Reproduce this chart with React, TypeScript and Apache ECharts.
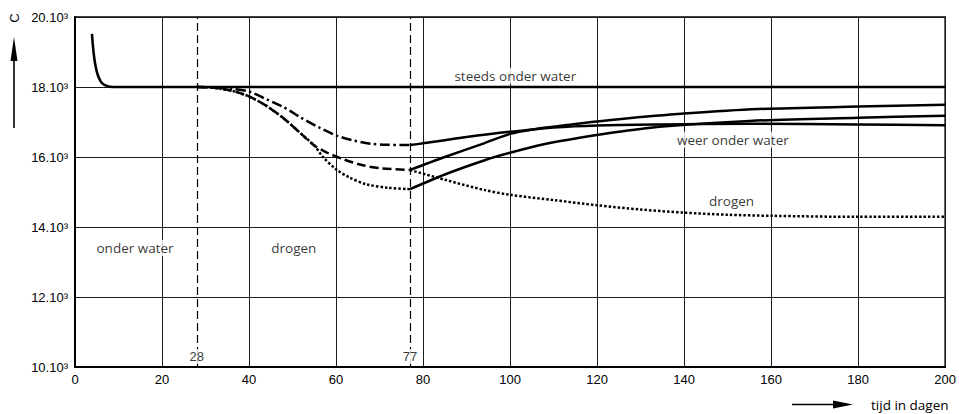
import React, { useEffect, useRef } from "react";
import * as echarts from "echarts";

// Axis ticks
const xTicks = [0, 20, 40, 60, 80, 100, 120, 140, 160, 180, 200];
const yTicks = [10, 12, 14, 16, 18, 20];

// Sample kept under water the whole time (C against days)
const steedsOnderWater: number[][] = [
  [3.9, 19.52], [4.1, 19.2], [4.4, 18.85], [4.8, 18.55], [5.3, 18.32],
  [5.9, 18.16], [6.6, 18.07], [7.5, 18.02], [8.6, 18.0], [200, 18.0],
];

// Drying period, day 28 to day 77 (three specimens)
const dryDashDot: number[][] = [
  [28, 18.0], [32, 17.99], [36, 17.95], [40, 17.87], [44, 17.65], [48, 17.42],
  [52, 17.12], [56, 16.85], [60, 16.62], [64, 16.47], [68, 16.38], [72, 16.35], [77, 16.34],
];
const dryDashed: number[][] = [
  [28, 18.0], [31, 17.99], [34, 17.94], [37, 17.86], [40, 17.73], [44, 17.46],
  [48, 17.1], [52, 16.66], [55, 16.33], [58, 16.12], [62, 15.92], [66, 15.77],
  [70, 15.68], [77, 15.63],
];
const dryDotted: number[][] = [
  [28, 18.0], [31, 17.99], [34, 17.94], [37, 17.86], [40, 17.73], [44, 17.46],
  [48, 17.1], [52, 16.66], [55, 16.33], [57, 16.0], [60, 15.65], [63, 15.42],
  [67, 15.22], [72, 15.12], [77, 15.08],
];

// Back under water from day 77
const weerA: number[][] = [
  [77, 16.34], [80, 16.39], [85, 16.48], [90, 16.57], [95, 16.65], [100, 16.72],
  [110, 16.84], [120, 16.9], [135, 16.93], [155, 16.95], [180, 16.93], [200, 16.91],
];
const weerB: number[][] = [
  [77, 15.63], [85, 16.0], [94, 16.39], [100, 16.66], [106, 16.8], [111, 16.88],
  [116, 16.96], [125, 17.08], [140, 17.24], [157, 17.37], [180, 17.44], [200, 17.49],
];
const weerC: number[][] = [
  [77, 15.08], [85, 15.5], [94, 15.9], [100, 16.12], [108, 16.37], [116, 16.55],
  [125, 16.72], [135, 16.87], [155, 17.03], [180, 17.12], [200, 17.18],
];

// Kept drying after day 77
const drogen: number[][] = [
  [77, 15.63], [85, 15.35], [94, 15.06], [100, 14.92], [110, 14.77], [120, 14.62],
  [130, 14.5], [140, 14.41], [150, 14.35], [160, 14.32], [180, 14.29], [200, 14.29],
];

// Phase boundaries (days)
const phaseDays = [28, 77];

// Text notes inside the plot
const notes = [
  { name: "onder water", value: [13.8, 13.4] },
  { name: "drogen", value: [50.3, 13.4] },
  { name: "steeds onder water", value: [101.2, 18.32] },
  { name: "weer onder water", value: [151.2, 16.49] },
  { name: "drogen", value: [150.9, 14.74] },
];

const INK = "#000000";
const NUM_FONT = "Liberation Sans";
const TXT_FONT = "Open Sans";

function curve(name: string, data: number[][], type: any, width = 2.5) {
  return {
    name,
    type: "line",
    data,
    showSymbol: false,
    symbol: "none",
    smooth: 0.3,
    silent: true,
    z: 4,
    lineStyle: { color: INK, width, type, cap: "butt", join: "round" },
  };
}

export default function App() {
  const ref = useRef<HTMLDivElement>(null);

  useEffect(() => {
    if (!ref.current) return;
    const chart = echarts.init(ref.current, undefined, { renderer: "svg" });

    chart.setOption({
      animation: false,
      backgroundColor: "#ffffff",
      grid: {
        left: 75,
        right: 12,
        top: 17,
        bottom: 47,
        show: true,
        borderColor: INK,
        borderWidth: 1.5,
        backgroundColor: "transparent",
      },
      xAxis: {
        type: "value",
        min: xTicks[0],
        max: xTicks[xTicks.length - 1],
        interval: 20,
        axisLine: { show: true, onZero: false, lineStyle: { color: INK, width: 2 } },
        axisTick: { show: false },
        axisLabel: {
          color: INK,
          fontSize: 13,
          fontFamily: NUM_FONT,
          margin: 6,
          customValues: xTicks,
        },
        splitLine: { show: true, lineStyle: { color: "#1a1a1a", width: 1 } },
      },
      yAxis: {
        type: "value",
        min: yTicks[0],
        max: yTicks[yTicks.length - 1],
        interval: 2,
        axisLine: { show: true, onZero: false, lineStyle: { color: INK, width: 2 } },
        axisTick: { show: false },
        axisLabel: {
          color: INK,
          fontSize: 13,
          fontFamily: NUM_FONT,
          margin: 7,
          formatter: (v: number) => `${v}.10³`,
        },
        splitLine: { show: true, lineStyle: { color: "#1a1a1a", width: 1 } },
      },
      series: [
        curve("steeds onder water", steedsOnderWater, "solid", 2.6),
        curve("drogen (1)", dryDashDot, [10, 3.5, 2.5, 3.5]),
        curve("drogen (2)", dryDashed, [9, 4]),
        curve("drogen (3)", dryDotted, [2.5, 2]),
        curve("weer onder water (1)", weerA, "solid"),
        curve("weer onder water (2)", weerB, "solid"),
        curve("weer onder water (3)", weerC, "solid"),
        curve("drogen", drogen, [2.5, 2]),
        {
          name: "notes",
          type: "scatter",
          data: notes,
          symbolSize: 0,
          silent: true,
          z: 6,
          label: {
            show: true,
            position: "inside",
            formatter: "{b}",
            color: INK,
            fontSize: 13.5,
            fontFamily: TXT_FONT,
            backgroundColor: "#ffffff",
            padding: [1, 2],
          },
          markLine: {
            silent: true,
            symbol: "none",
            label: { show: false },
            lineStyle: { color: INK, width: 1.2, type: [8, 4] },
            data: phaseDays.map((d) => ({ xAxis: d })),
          },
        },
        {
          name: "phase days",
          type: "scatter",
          data: phaseDays.map((d) => ({ name: String(d), value: [d, 10.3] })),
          symbolSize: 0,
          silent: true,
          z: 7,
          label: {
            show: true,
            position: "inside",
            formatter: "{b}",
            color: INK,
            fontSize: 13,
            fontFamily: NUM_FONT,
            backgroundColor: "#ffffff",
            padding: [1, 1],
          },
        },
      ],
      graphic: [
        {
          type: "text",
          x: 14,
          y: 18,
          rotation: Math.PI / 2,
          style: {
            text: "C",
            fontSize: 13,
            fontFamily: NUM_FONT,
            fill: INK,
            align: "center",
            verticalAlign: "middle",
          },
        },
        {
          type: "line",
          shape: { x1: 14, y1: 128, x2: 14, y2: 56 },
          style: { stroke: INK, lineWidth: 1.6 },
        },
        {
          type: "polygon",
          shape: { points: [[14, 37], [10.5, 61], [17.5, 61]] },
          style: { fill: INK },
        },
        {
          type: "line",
          shape: { x1: 792, y1: 404.5, x2: 840, y2: 404.5 },
          style: { stroke: INK, lineWidth: 1.6 },
        },
        {
          type: "polygon",
          shape: { points: [[853, 404.5], [833, 400.5], [833, 408.5]] },
          style: { fill: INK },
        },
        {
          type: "text",
          x: 871,
          y: 405,
          style: {
            text: "tijd in dagen",
            fontSize: 13.5,
            fontFamily: TXT_FONT,
            fill: INK,
            align: "left",
            verticalAlign: "middle",
          },
        },
      ],
    });

    return () => chart.dispose();
  }, []);

  return (
    <div
      ref={ref}
      style={{ position: "fixed", left: 0, top: 0, width: 959, height: 414, background: "#fff" }}
    />
  );
}
